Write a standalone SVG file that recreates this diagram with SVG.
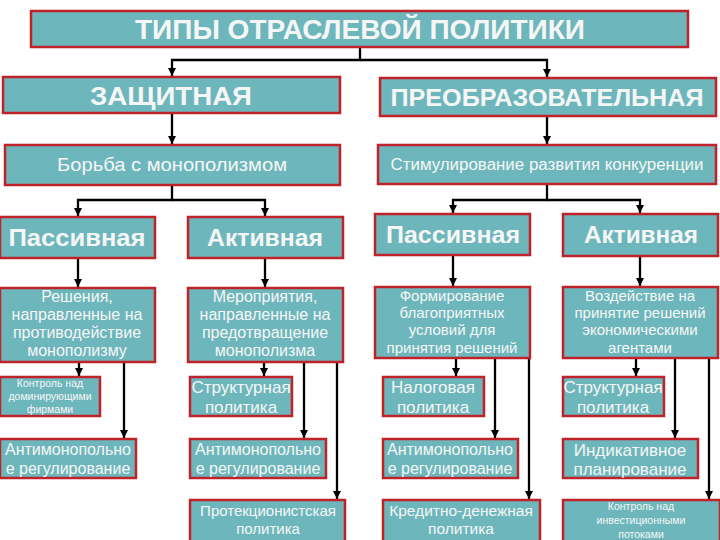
<svg xmlns="http://www.w3.org/2000/svg" width="720" height="540" viewBox="0 0 720 540">
<defs>
<marker id="ah" markerUnits="userSpaceOnUse" markerWidth="9" markerHeight="9" refX="8" refY="4" orient="auto"><path d="M0,0 L8,4 L0,8 z" fill="#000"/></marker>
<style>
.b{fill:#6db7bc;stroke:#bf2229;stroke-width:2.5}
.t{fill:#f6f6f6;font-family:"Liberation Sans",Arial,sans-serif;text-anchor:middle}
.h{font-weight:bold}
.c{fill:none;stroke:#000;stroke-width:2.3}
</style>
</defs>
<rect width="720" height="540" fill="#fff"/>
<g id="connectors">
<path class="c" d="M360,47 V60 H172 V76" marker-end="url(#ah)"/>
<path class="c" d="M360,60 H547 V77" marker-end="url(#ah)"/>
<path class="c" d="M172,113 V144" marker-end="url(#ah)"/>
<path class="c" d="M547,116 V144" marker-end="url(#ah)"/>
<path class="c" d="M172,185 V200 H78 V216" marker-end="url(#ah)"/>
<path class="c" d="M172,200 H265 V216" marker-end="url(#ah)"/>
<path class="c" d="M547,184 V200 H453 V213" marker-end="url(#ah)"/>
<path class="c" d="M547,200 H640 V213" marker-end="url(#ah)"/>
<path class="c" d="M78,258 V287" marker-end="url(#ah)"/>
<path class="c" d="M265,258 V287" marker-end="url(#ah)"/>
<path class="c" d="M453,255 V286" marker-end="url(#ah)"/>
<path class="c" d="M640,256 V286" marker-end="url(#ah)"/>
<path class="c" d="M79,362 V376" marker-end="url(#ah)"/>
<path class="c" d="M124,362 V438" marker-end="url(#ah)"/>
<path class="c" d="M264,362 V376" marker-end="url(#ah)"/>
<path class="c" d="M304,362 V438" marker-end="url(#ah)"/>
<path class="c" d="M337,362 V499" marker-end="url(#ah)"/>
<path class="c" d="M456,358 V376" marker-end="url(#ah)"/>
<path class="c" d="M495,358 V438" marker-end="url(#ah)"/>
<path class="c" d="M529,358 V499" marker-end="url(#ah)"/>
<path class="c" d="M636,358 V376" marker-end="url(#ah)"/>
<path class="c" d="M675,358 V438" marker-end="url(#ah)"/>
<path class="c" d="M709,358 V499" marker-end="url(#ah)"/>
</g>
<g id="n-title"><rect class="b" x="31" y="11" width="657" height="36"/><text class="t h" x="360" y="39" font-size="27" textLength="450" lengthAdjust="spacingAndGlyphs">ТИПЫ ОТРАСЛЕВОЙ ПОЛИТИКИ</text></g>
<g id="n-zash"><rect class="b" x="3" y="77" width="337" height="36"/><text class="t h" x="171" y="105" font-size="25" textLength="162" lengthAdjust="spacingAndGlyphs">ЗАЩИТНАЯ</text></g>
<g id="n-preob"><rect class="b" x="380" y="78" width="336" height="38"/><text class="t h" x="547" y="106" font-size="24" textLength="313" lengthAdjust="spacingAndGlyphs">ПРЕОБРАЗОВАТЕЛЬНАЯ</text></g>
<g id="n-borba"><rect class="b" x="5" y="145" width="335" height="40"/><text class="t" x="172" y="171" font-size="18" textLength="230" lengthAdjust="spacingAndGlyphs">Борьба с монополизмом</text></g>
<g id="n-stim"><rect class="b" x="378" y="145" width="338" height="39"/><text class="t" x="547" y="170" font-size="16" textLength="313" lengthAdjust="spacingAndGlyphs">Стимулирование развития конкуренции</text></g>
<g id="n-pass1"><rect class="b" x="0" y="217" width="155" height="41"/><text class="t h" x="77" y="246" font-size="23" textLength="137" lengthAdjust="spacingAndGlyphs">Пассивная</text></g>
<g id="n-akt1"><rect class="b" x="188" y="217" width="155" height="41"/><text class="t h" x="265" y="246" font-size="23" textLength="116" lengthAdjust="spacingAndGlyphs">Активная</text></g>
<g id="n-pass2"><rect class="b" x="375" y="214" width="155" height="41"/><text class="t h" x="453" y="243" font-size="23" textLength="134" lengthAdjust="spacingAndGlyphs">Пассивная</text></g>
<g id="n-akt2"><rect class="b" x="563" y="214" width="155" height="42"/><text class="t h" x="641" y="243" font-size="23" textLength="114" lengthAdjust="spacingAndGlyphs">Активная</text></g>
<g id="n-resh"><rect class="b" x="0" y="288" width="155" height="74"/><text class="t" x="77" font-size="16"><tspan x="77" y="302">Решения,</tspan><tspan x="77" y="320">направленные на</tspan><tspan x="77" y="338">противодействие</tspan><tspan x="77" y="356">монополизму</tspan></text></g>
<g id="n-merop"><rect class="b" x="188" y="288" width="155" height="74"/><text class="t" x="265" font-size="16"><tspan x="265" y="302">Мероприятия,</tspan><tspan x="265" y="320">направленные на</tspan><tspan x="265" y="338">предотвращение</tspan><tspan x="265" y="356">монополизма</tspan></text></g>
<g id="n-form"><rect class="b" x="375" y="287" width="155" height="71"/><text class="t" x="452" font-size="15"><tspan x="452" y="301">Формирование</tspan><tspan x="452" y="318">благоприятных</tspan><tspan x="452" y="335">условий для</tspan><tspan x="452" y="353">принятия решений</tspan></text></g>
<g id="n-vozd"><rect class="b" x="563" y="287" width="155" height="71"/><text class="t" x="640" font-size="15"><tspan x="640" y="301">Воздействие на</tspan><tspan x="640" y="318">принятие решений</tspan><tspan x="640" y="335">экономическими</tspan><tspan x="640" y="353">агентами</tspan></text></g>
<g id="n-kontr1"><rect class="b" x="0" y="377" width="100" height="39"/><text class="t" x="50" font-size="10.5"><tspan x="50" y="387">Контроль над</tspan><tspan x="50" y="400">доминирующими</tspan><tspan x="50" y="413">фирмами</tspan></text></g>
<g id="n-str1"><rect class="b" x="190" y="377" width="102" height="39"/><text class="t" x="241" font-size="17"><tspan x="241" y="393">Структурная</tspan><tspan x="241" y="413">политика</tspan></text></g>
<g id="n-nalog"><rect class="b" x="383" y="377" width="101" height="39"/><text class="t" x="433" font-size="17"><tspan x="433" y="393">Налоговая</tspan><tspan x="433" y="413">политика</tspan></text></g>
<g id="n-str2"><rect class="b" x="563" y="377" width="101" height="39"/><text class="t" x="613" font-size="17"><tspan x="613" y="393">Структурная</tspan><tspan x="613" y="413">политика</tspan></text></g>
<g id="n-anti1"><rect class="b" x="0" y="439" width="136" height="39"/><text class="t" x="68" font-size="16"><tspan x="68" y="455">Антимонопольно</tspan><tspan x="68" y="474">е регулирование</tspan></text></g>
<g id="n-anti2"><rect class="b" x="190" y="439" width="136" height="39"/><text class="t" x="258" font-size="16"><tspan x="258" y="455">Антимонопольно</tspan><tspan x="258" y="474">е регулирование</tspan></text></g>
<g id="n-anti3"><rect class="b" x="383" y="439" width="135" height="39"/><text class="t" x="450" font-size="16"><tspan x="450" y="455">Антимонопольно</tspan><tspan x="450" y="474">е регулирование</tspan></text></g>
<g id="n-indik"><rect class="b" x="563" y="439" width="135" height="39"/><text class="t" x="630" font-size="17"><tspan x="630" y="456">Индикативное</tspan><tspan x="630" y="475">планирование</tspan></text></g>
<g id="n-prot"><rect class="b" x="190" y="500" width="155" height="42"/><text class="t" x="268" font-size="15"><tspan x="268" y="516">Протекционистская</tspan><tspan x="268" y="534">политика</tspan></text></g>
<g id="n-kred"><rect class="b" x="383" y="500" width="157" height="42"/><text class="t" x="461" font-size="15.5"><tspan x="461" y="516">Кредитно-денежная</tspan><tspan x="461" y="534">политика</tspan></text></g>
<g id="n-kontr2"><rect class="b" x="563" y="500" width="157" height="42"/><text class="t" x="641" font-size="10.5"><tspan x="641" y="510">Контроль над</tspan><tspan x="641" y="524">инвестиционными</tspan><tspan x="641" y="538">потоками</tspan></text></g>
</svg>
